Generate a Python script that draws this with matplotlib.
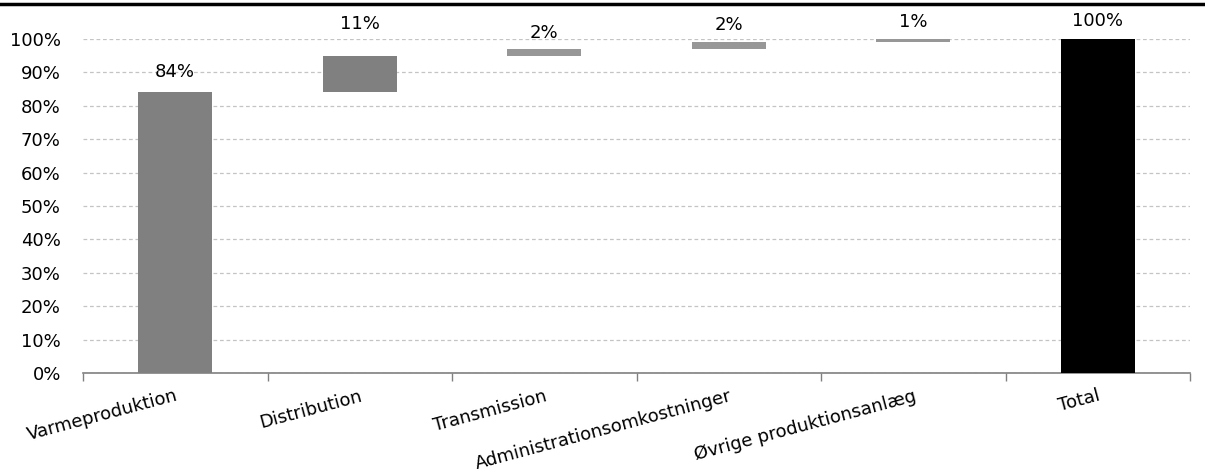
import matplotlib.pyplot as plt
import numpy as np
from matplotlib.lines import Line2D
from matplotlib.ticker import FuncFormatter, MultipleLocator

# Cost components (share of total heat price, %)
categories = [
    "Varmeproduktion",
    "Distribution",
    "Transmission",
    "Administrationsomkostninger",
    "Øvrige produktionsanlæg",
    "Total",
]
shares = [84, 11, 2, 2, 1]

# Label lift above each bar top, in pixels
label_lift = [20, 32, 16, 17, 17, 18]
bar_colors = ["#808080", "#808080", "#979797", "#979797", "#979797", "#000000"]

plt.rcParams["font.family"] = "DejaVu Sans"
plt.rcParams["font.size"] = 13

fig = plt.figure(figsize=(12.05, 4.75), dpi=100)
ax = fig.add_axes([83 / 1205, 1 - 373 / 475, (1190 - 83) / 1205, (373 - 39) / 475])

values = shares + [sum(shares)]
bottoms = list(np.concatenate([[0], np.cumsum(shares)[:-1]])) + [0]
x = np.arange(len(values))

ax.bar(x, values, bottom=bottoms, width=0.4, color=bar_colors, zorder=3)

for xi, v, b, lift in zip(x, values, bottoms, label_lift):
    ax.annotate(
        f"{v}%",
        xy=(xi, b + v),
        xytext=(0, lift),
        textcoords="offset pixels",
        ha="center",
        va="center",
        annotation_clip=False,
    )

ax.set_xlim(-0.5, len(values) - 0.5)
ax.set_ylim(0, 100)
ax.yaxis.set_major_locator(MultipleLocator(10))
ax.yaxis.set_major_formatter(FuncFormatter(lambda v, _: f"{v:.0f}%"))
ax.grid(axis="y", color="#c4c4c4", linestyle=(0, (3, 2.2)), linewidth=0.9, zorder=0)

# Category labels centred in slots, tick marks between slots
ax.set_xticks(x)
ax.set_xticklabels(categories, rotation=15, ha="right", va="top", rotation_mode="anchor")
ax.tick_params(axis="x", length=0, pad=10)
ax.set_xticks(np.arange(len(values) + 1) - 0.5, minor=True)
ax.tick_params(axis="x", which="minor", length=6, color="#808080", width=1)
ax.tick_params(axis="y", length=0, pad=16)

for side in ["top", "right", "left"]:
    ax.spines[side].set_visible(False)
ax.spines["bottom"].set_color("#808080")
ax.spines["bottom"].set_linewidth(1.2)

# Heavy rule across the top of the figure
fig.add_artist(Line2D([0, 1], [1 - 4 / 475, 1 - 4 / 475], color="black", linewidth=2.5, transform=fig.transFigure))

fig.savefig("out.png", dpi=100)
